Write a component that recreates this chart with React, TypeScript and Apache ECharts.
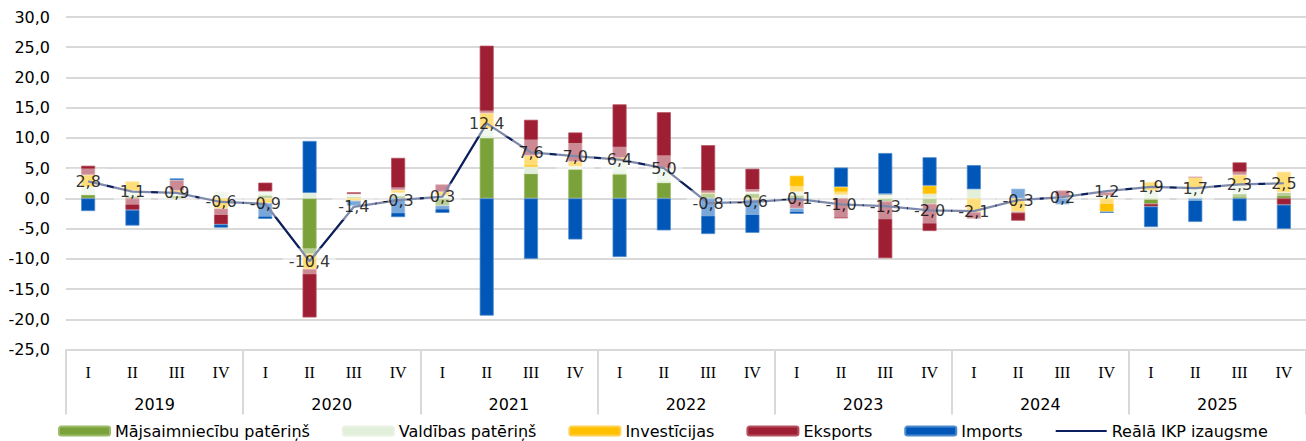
import React, { useEffect, useRef } from "react";
import * as echarts from "echarts";

const quarters = [
  "I", "II", "III", "IV", "I", "II", "III", "IV", "I", "II", "III", "IV", "I", "II",
  "III", "IV", "I", "II", "III", "IV", "I", "II", "III", "IV", "I", "II", "III", "IV",
];
const years = ["2019", "2020", "2021", "2022", "2023", "2024", "2025"];

const households = [
  0.6, 0.3, 0.4, 0, 0.5, -9.2, 0.2, 0.4, -1.2, 10.0, 4.1, 4.8, 4.0, 2.6,
  0.9, 0.8, 0.5, 0, -0.5, -0.9, 0, 0, 0, 0, -0.9, 0, 0.75, 1.0,
];
const government = [
  1.3, 1.0, 0.5, 1.1, 0.6, 0.9, 0.5, 0.5, 0.5, 1.5, 1.1, 0.5, 2.2, 2.4,
  0, 0.3, 0.6, 0.6, 0.6, 0.7, 1.5, 0, 0, 0.5, 1.3, 1.7, 1.35, 0,
];
const investment = [
  2.0, 1.5, 0.4, -1.7, -0.8, -2.5, -0.4, 0.5, 0.6, 2.6, 1.9, 0.8, 0.55, 0,
  0, -0.2, 2.65, 1.3, 0, 1.4, -2.3, -2.2, 0.3, -2.2, 1.4, 1.8, 1.8, 3.4,
];
const exports = [
  1.5, -1.9, 1.7, -2.6, 1.5, -8.0, 0.3, 5.3, 1.2, 11.15, 5.9, 4.8, 8.8, 9.25,
  7.9, 3.8, -1.65, -3.3, -9.4, -4.5, -1.05, -1.5, 1.0, 0.5, -0.45, 0, 2.05, -1.05,
];
const imports = [
  -2.1, -2.6, 0.3, -0.55, -2.6, 8.6, -0.8, -3.1, -1.2, -19.4, -10.0, -6.8, -9.7, -5.3,
  -5.9, -5.5, -0.9, 3.2, 6.9, 4.7, 4.0, 1.6, -1.0, -0.2, -3.4, -3.9, -3.75, -4.0,
];
const gdp = [
  2.8, 1.1, 0.9, -0.6, -0.9, -10.4, -1.4, -0.3, 0.3, 12.4, 7.6, 7.0, 6.4, 5.0,
  -0.8, -0.6, -0.1, -1.0, -1.3, -2.0, -2.1, -0.3, 0.2, 1.2, 1.9, 1.7, 2.3, 2.5,
];

const FONT = "DejaVu Sans";
const NAVY = "#0B1F5C";
const fmt = (v: number) => v.toFixed(1).replace(".", ",");

export default function App() {
  const ref = useRef<HTMLDivElement>(null);
  useEffect(() => {
    if (!ref.current) return;
    const chart = echarts.init(ref.current, undefined, { renderer: "svg" });
    const bar = (name: string, data: number[], color: string, border: string) => ({
      name,
      type: "bar",
      stack: "total",
      data,
      barWidth: 14,
      itemStyle: { color, borderColor: border, borderWidth: 0.75 },
      z: 2,
    });
    chart.setOption({
      animation: false,
      grid: { left: 66, right: -11, top: 17, bottom: 91.5, containLabel: false },
      legend: {
        left: 53,
        top: 418,
        itemWidth: 51,
        itemHeight: 9,
        itemGap: 32,
        textStyle: { fontFamily: FONT, fontSize: 16, color: "#000" },
        data: [
          "Mājsaimniecību patēriņš",
          "Valdības patēriņš",
          "Investīcijas",
          "Eksports",
          "Imports",
          { name: "Reālā IKP izaugsme", itemStyle: { opacity: 0 } },
        ],
      },
      xAxis: [
        {
          type: "category",
          data: quarters,
          position: "bottom",
          axisLine: { show: true, lineStyle: { color: "#d9d9d9", width: 2 } },
          axisTick: { show: false },
          axisLabel: {
            margin: 15,
            fontFamily: "Liberation Serif",
            fontSize: 16,
            color: "#000",
            interval: 0,
          },
        },
        {
          type: "category",
          data: years,
          position: "bottom",
          axisLine: { show: false },
          axisTick: { show: true, length: 65, lineStyle: { color: "#d9d9d9", width: 2 } },
          axisLabel: { margin: 47, fontFamily: FONT, fontSize: 16, color: "#000" },
        },
      ],
      yAxis: {
        type: "value",
        min: -25,
        max: 30,
        interval: 5,
        axisLine: { show: false },
        axisTick: { show: false },
        splitLine: { lineStyle: { color: "#d9d9d9", width: 2 } },
        axisLabel: {
          formatter: (v: number) => fmt(v),
          fontFamily: FONT,
          fontSize: 16,
          color: "#000",
          margin: 16,
        },
      },
      series: [
        bar("Mājsaimniecību patēriņš", households, "#7BA23A", "#9CBB66"),
        bar("Valdības patēriņš", government, "#E2EFDA", "#E9F2E3"),
        bar("Investīcijas", investment, "#FFC000", "#FFD04D"),
        bar("Eksports", exports, "#9E1F33", "#B5505F"),
        bar("Imports", imports, "#0057B8", "#4D89CD"),
        {
          name: "Reālā IKP izaugsme",
          type: "line",
          data: gdp,
          symbol: "none",
          z: 5,
          lineStyle: { color: NAVY, width: 2.25 },
          itemStyle: { color: NAVY },
        },
        {
          name: "labels",
          type: "scatter",
          data: gdp,
          symbolSize: 0,
          z: 10,
          silent: true,
          itemStyle: { color: "rgba(0,0,0,0)" },
          label: {
            show: true,
            position: "inside",
            formatter: (p: any) => fmt(p.value),
            fontFamily: FONT,
            fontSize: 16,
            color: "#000",
            backgroundColor: "rgba(255,255,255,0.6)",
            padding: [5, 6],
          },
        },
      ],
    });
    return () => chart.dispose();
  }, []);
  return (
    <div
      ref={ref}
      style={{ position: "absolute", left: 0, top: 0, width: 1306, height: 441 }}
    />
  );
}
